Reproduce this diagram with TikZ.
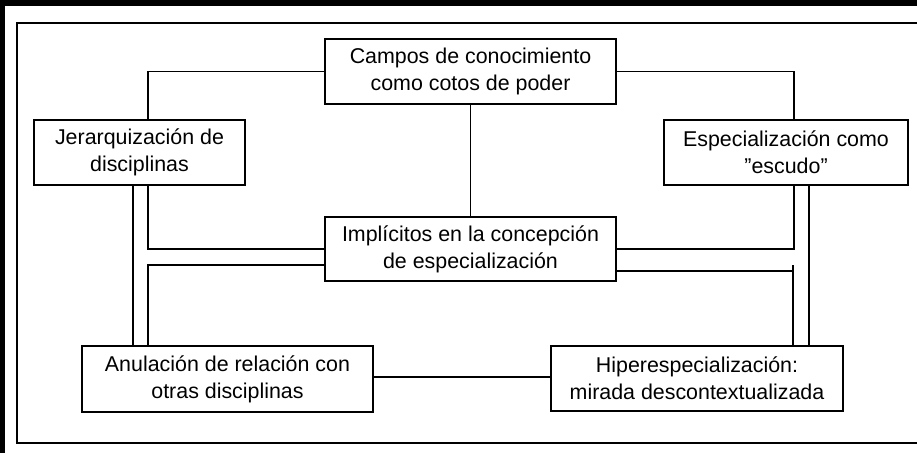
\documentclass[tikz,border=0pt]{standalone}
\usepackage{fontspec}
\setmainfont{Liberation Sans}[Ligatures=ResetAll]
\begin{document}
\begin{tikzpicture}[x=1pt,y=-1pt,
  box/.style={draw, line width=1.3pt, fill=white, align=center, inner sep=0pt,
    font=\fontsize{21.4}{27}\selectfont, minimum height=65pt},
  conn/.style={line width=1.3pt}]
\useasboundingbox (0,0) rectangle (917,453);
\fill[white] (0,0) rectangle (917,453);
\fill[black] (0,0) rectangle (917,6);
\fill[black] (0,0) rectangle (5,453);
\draw[line width=1.3pt] (917,23) -- (17,23) -- (17,443) -- (917,443);

\node[box, minimum width=291pt] (campos) at (470.5,71.5) {Campos de conocimiento\\como cotos de poder};
\node[box, minimum width=211pt] (jer) at (139.5,152.5) {Jerarquización de\\disciplinas};
\node[box, minimum width=244pt] (esp) at (786,152.5) {Especialización como\\"escudo"};
\node[box, minimum width=291pt, minimum height=64pt] (impl) at (470.5,249) {Implícitos en la concepción\\de especialización};
\node[box, minimum width=291pt, minimum height=66pt] (anul) at (227.5,379) {Anulación de relación con\\otras disciplinas};
\node[box, minimum width=292pt] (hiper) at (697,378.5) {Hiperespecialización:\\mirada descontextualizada};

\draw[conn] (campos.west) -| ([xshift=8.5pt]jer.north);
\draw[conn] (campos.east) -| ([xshift=8pt]esp.north);
\draw[conn] (campos.south) -- (impl.north);
\draw[conn] ([xshift=-6.5pt]jer.south) -- ([xshift=-6.5pt]jer.south |- anul.north);
\draw[conn] ([xshift=8.5pt]jer.south) |- (impl.west);
\draw[conn] ([yshift=-16pt]impl.west) -| ([xshift=-79.5pt]anul.north);
\draw[conn] (impl.east) -| ([xshift=8pt]esp.south);
\coordinate (ir) at ([yshift=-22pt]impl.east);
\coordinate (hr) at ([xshift=96pt]hiper.north);
\coordinate (hs) at (ir -| hr);
\draw[conn] (ir) -- (hs);
\draw[conn] ([yshift=6pt]hs) -- (hr);
\draw[conn] ([xshift=23pt]esp.south) -- ([xshift=23pt]esp.south |- hiper.north);
\coordinate (ae) at ([yshift=2pt]anul.east);
\draw[conn] (ae) -- (ae -| hiper.west);
\end{tikzpicture}
\end{document}
